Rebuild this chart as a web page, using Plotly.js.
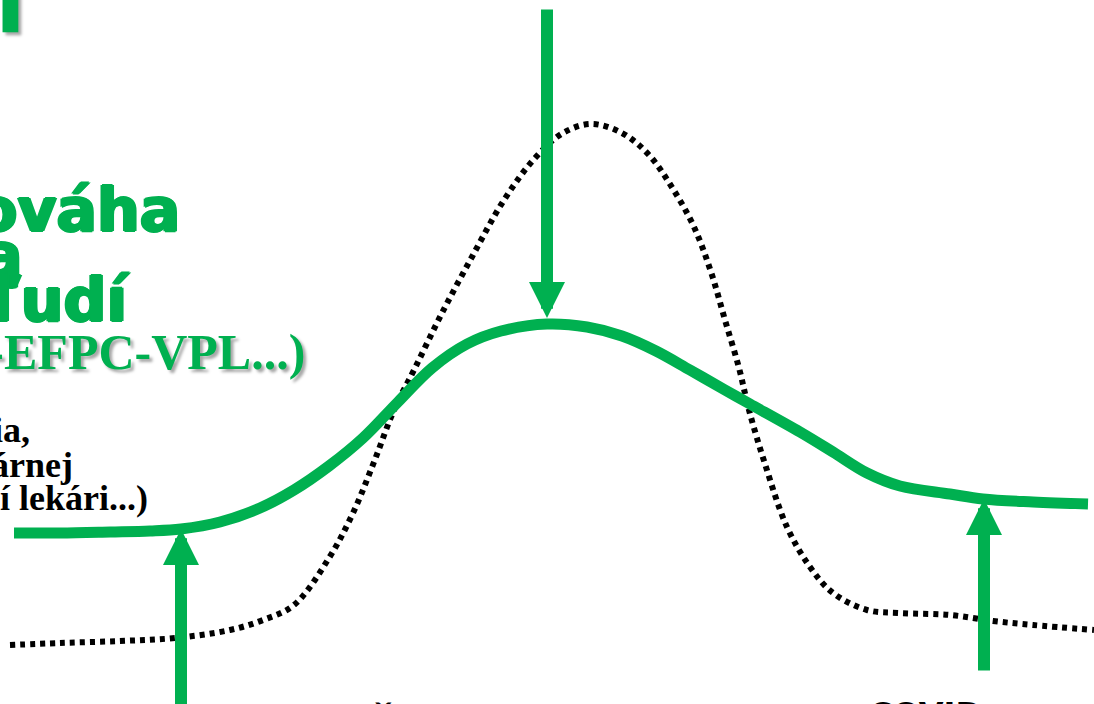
<!DOCTYPE html>
<html>
<head>
<meta charset="utf-8">
<script src="https://cdn.plot.ly/plotly-3.0.1.min.js"></script>
<style>
  html, body { margin: 0; padding: 0; background: #fff; }
  #plot { width: 1094px; height: 704px; }
</style>
</head>
<body>
<div id="plot"></div>
<script>
// curve samples (x position, level measured from the top)
const careX = [14, 60, 110, 150, 181, 220, 260, 294, 329, 363, 398, 432, 467, 501, 547, 587, 622, 656, 690, 725, 750, 800, 833, 867, 900, 950, 983, 1033, 1088];
const careY = [533, 533, 532, 531, 529, 522, 508, 490, 466, 438, 402, 368, 344, 331, 324, 327, 336, 351, 370, 390, 404, 432, 452, 473, 486, 494, 499, 502, 504];

const needX = [10, 60, 120, 175, 230, 263, 294, 329, 353, 374, 394, 415, 442, 473, 504, 535, 563, 591, 622, 649, 673, 694, 711, 725, 739, 749, 765, 787, 810, 833, 867, 900, 950, 993, 1033, 1094];
const needY = [645, 643, 641, 638, 630, 620, 605, 558, 513, 462, 410, 368, 313, 255, 200, 158, 133, 124, 133, 155, 189, 227, 272, 320, 368, 410, 464, 527, 567, 593, 610, 613, 615, 621, 625, 630];

// arrows: x, tip, tail
const arrowX = [547, 181, 984];
const arrowTip = [318, 529, 499];
const arrowTail = [8, 720, 672];

// text lines (left side, cut by the frame)
const headLines = ["Rovnováha", "ą", "ľudí"];
const headRight = [181, 24, 131];
const headBase = [232, 277, 322];
const subLine = "(PZS-EFPC-VPL...)";
const noteLines = ["ambulancia,", "primárnej", "všeobecní lekári...)"];
const noteRight = [31, 74, 149];
const noteBase = [443, 478, 511];
const bottomLabels = ["Š", "COVID"];
const bottomX = [384, 925];
const bottomTop = [701, 694];
const bottomSize = [44, 32];

const green = "#00B050";
// same-colour shadows make the sans lines heavier
const heavy = "1.5px 0 0 " + green + ", -1.5px 0 0 " + green + ", 0 1px 0 " + green + ", 0 -1px 0 " + green;

const traces = [
  {
    x: needX, y: needY, type: "scatter", mode: "lines",
    line: { color: "#000", width: 6, dash: "5px,5px", shape: "spline", smoothing: 1 },
    hoverinfo: "skip"
  },
  {
    x: careX, y: careY, type: "scatter", mode: "lines",
    line: { color: green, width: 11, shape: "spline", smoothing: 1 },
    hoverinfo: "skip"
  }
];

const annotations = [];

arrowX.forEach((x, i) => {
  annotations.push({
    x: x, y: arrowTip[i], ax: x, ay: arrowTail[i],
    xref: "x", yref: "y", axref: "x", ayref: "y",
    text: "", showarrow: true,
    arrowhead: 2, arrowsize: 0.6, arrowwidth: 12, arrowcolor: green
  });
});

// top-left fragment of a bigger title
annotations.push({
  x: 27, y: 33 + 21, xref: "x", yref: "y", xanchor: "right", yanchor: "bottom",
  text: "l", showarrow: false, borderpad: 0,
  font: { family: "DejaVu Sans", size: 90, weight: 700, color: green, shadow: "3px 3px 3px rgba(0,0,0,0.35)" }
});

headLines.forEach((t, i) => {
  annotations.push({
    x: headRight[i], y: headBase[i] + 14, xref: "x", yref: "y",
    xanchor: "right", yanchor: "bottom", text: t, showarrow: false, borderpad: 0,
    font: { family: "DejaVu Sans", size: 60, weight: 700, color: green, shadow: heavy }
  });
});

annotations.push({
  x: 306, y: 371 + 10, xref: "x", yref: "y", xanchor: "right", yanchor: "bottom",
  text: subLine, showarrow: false, borderpad: 0,
  font: { family: "Liberation Serif", size: 50, weight: 700, color: green, shadow: "3px 3px 3px rgba(0,0,0,0.35)" }
});

noteLines.forEach((t, i) => {
  annotations.push({
    x: noteRight[i], y: noteBase[i] + 8, xref: "x", yref: "y",
    xanchor: "right", yanchor: "bottom", text: t, showarrow: false, borderpad: 0,
    font: { family: "Liberation Serif", size: 36, weight: 700, color: "#000" }
  });
});

bottomLabels.forEach((t, i) => {
  annotations.push({
    x: bottomX[i], y: bottomTop[i], xref: "x", yref: "y",
    xanchor: "center", yanchor: "top", text: t, showarrow: false, borderpad: 0,
    font: { family: "DejaVu Sans", size: bottomSize[i], weight: 700, color: "#000" }
  });
});

const layout = {
  width: 1094, height: 704,
  margin: { l: 0, r: 0, t: 0, b: 0 },
  paper_bgcolor: "#fff", plot_bgcolor: "#fff",
  showlegend: false,
  xaxis: { range: [0, 1094], visible: false, fixedrange: true },
  yaxis: { range: [704, 0], visible: false, fixedrange: true },
  annotations: annotations
};

Plotly.newPlot("plot", traces, layout, { staticPlot: true });
</script>
</body>
</html>
